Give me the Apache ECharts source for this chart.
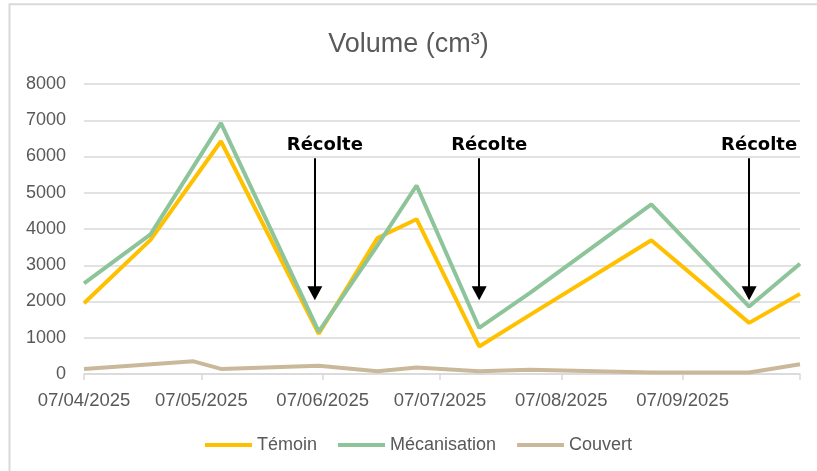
<!DOCTYPE html>
<html><head><meta charset="utf-8">
<script src="https://cdn.jsdelivr.net/npm/echarts@6/dist/echarts.min.js"></script>
<style>html,body{margin:0;padding:0;background:#fff}#c{width:817px;height:471px}</style>
</head><body><div id="c"></div>
<script>
// ---- data ----
const dates = ['2025-04-07','2025-04-24','2025-05-12','2025-06-06','2025-06-21','2025-07-01','2025-07-17','2025-07-30','2025-08-30','2025-09-24','2025-10-07'];
const temoin = [1950,3700,6420,1110,3750,4270,760,1630,3690,1410,2210];
const mecanisation = [2500,3850,6920,1170,3550,5200,1270,2240,4680,1860,3040];
const couvertDates = ['2025-04-07','2025-05-05','2025-05-12','2025-06-06','2025-06-21','2025-07-01','2025-07-17','2025-07-30','2025-08-30','2025-09-24','2025-10-07'];
const couvert = [140,350,140,230,75,180,75,115,40,40,270];
const harvestDates = ['2025-06-05','2025-07-17','2025-09-24'];
const harvestTop = 5950, harvestTip = 2230;
const tickLabelDates = ['2025-04-07','2025-05-07','2025-06-07','2025-07-07','2025-08-07','2025-09-07'];
const axisStart = '2025-04-07', axisEnd = '2025-10-07';
const yTicks = [0,1000,2000,3000,4000,5000,6000,7000,8000];

function ts(s){const p=s.split('-').map(Number);return new Date(p[0],p[1]-1,p[2]).getTime();}
function pad(n){return (n<10?'0':'')+n;}
function fmt(v){const d=new Date(v);return pad(d.getDate())+'/'+pad(d.getMonth()+1)+'/'+d.getFullYear();}
function pairs(ds,vs){return ds.map((d,i)=>[ts(d),vs[i]]);}

const chart = echarts.init(document.getElementById('c'), null, {renderer:'canvas'});
const gray = '#595959';
chart.setOption({
  animation:false,
  backgroundColor:'#fff',
  title:{text:'Volume (cm³)',left:'center',top:26,textStyle:{fontFamily:'Liberation Sans',fontSize:27,fontWeight:'normal',color:gray}},
  grid:{left:84,right:17,top:84,bottom:97,containLabel:false,outerBoundsMode:'none'},
  legend:{left:200,top:431,icon:'rect',itemWidth:47,itemHeight:4,itemGap:21,
    textStyle:{fontFamily:'Liberation Sans',fontSize:18,color:gray},
    data:['Témoin','Mécanisation','Couvert']},
  xAxis:{type:'value',min:ts(axisStart),max:ts(axisEnd),scale:true,
    axisLine:{show:true,onZero:false,lineStyle:{color:'#d9d9d9',width:1.5}},
    axisTick:{show:true,length:6,lineStyle:{color:'#d9d9d9',width:1.5},customValues:tickLabelDates.concat([axisEnd]).map(ts)},
    axisLabel:{customValues:tickLabelDates.map(ts),formatter:fmt,margin:17,fontFamily:'Liberation Sans',fontSize:18.5,color:gray,hideOverlap:false},
    splitLine:{show:false}},
  yAxis:{type:'value',min:yTicks[0],max:yTicks[yTicks.length-1],interval:1000,
    axisLine:{show:false},axisTick:{show:false},
    axisLabel:{margin:18,formatter:v=>String(v),fontFamily:'Liberation Sans',fontSize:18,color:gray},
    splitLine:{lineStyle:{color:'#d9d9d9',width:1.5}}},
  series:[
    {name:'Témoin',type:'line',data:pairs(dates,temoin),symbol:'none',color:'#FFC000',lineStyle:{width:4,color:'#FFC000'}},
    {name:'Mécanisation',type:'line',data:pairs(dates,mecanisation),symbol:'none',color:'#8DC49A',lineStyle:{width:4,color:'#8DC49A'}},
    {name:'Couvert',type:'line',data:pairs(couvertDates,couvert),symbol:'none',color:'#C9B99A',lineStyle:{width:4,color:'#C9B99A'},
      markLine:{silent:true,animation:false,symbol:['none','triangle'],symbolSize:[15,14],
        lineStyle:{color:'#000',width:2,type:'solid'},
        label:{show:true,position:'start',formatter:'Récolte',distance:4,offset:[10,0],color:'#000',fontFamily:'DejaVu Sans',fontWeight:'bold',fontSize:18},
        emphasis:{disabled:true},
        data:harvestDates.map(d=>[{coord:[ts(d),harvestTop]},{coord:[ts(d),harvestTip]}])}}
  ],
  graphic:[{type:'rect',silent:true,z:100,shape:{x:9.5,y:4.3,width:900,height:600},style:{fill:'none',stroke:'#d9d9d9',lineWidth:2}}]
});
</script></body></html>
